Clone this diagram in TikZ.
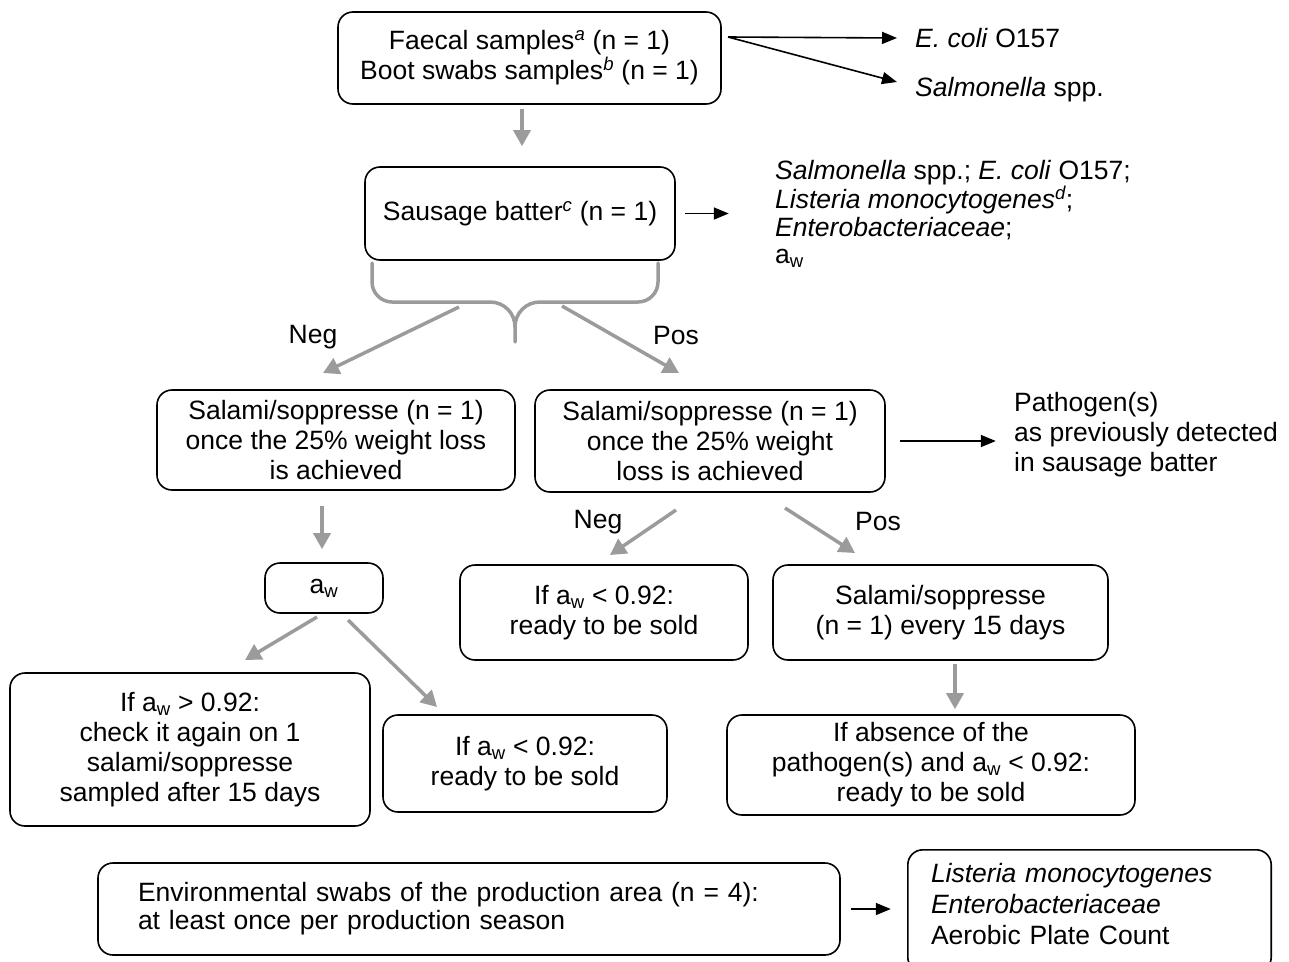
\documentclass[tikz,border=0pt]{standalone}
\usepackage{fontspec}
\setmainfont{Liberation Sans}
\usetikzlibrary{arrows.meta,calc}
\definecolor{ag}{RGB}{155,155,155}
\begin{document}
\begin{tikzpicture}[x=1pt,y=-1pt,
  every node/.style={font=\fontsize{26.5}{30}\selectfont},
  box/.style={draw,rounded corners=15pt,line width=1.6pt,align=center,inner sep=0pt},
  lbl/.style={inner sep=0pt},
  garrow/.style={draw=ag,line width=3.5pt,-{Triangle[width=17pt,length=16pt]}},
  barrow/.style={draw=black,line width=1.6pt,-{Triangle[width=12pt,length=15pt]}},
  bracestyle/.style={draw=ag,line width=3.5pt,line cap=round}]
\useasboundingbox (0,0) rectangle (1289,961);

% top box
\node[box,minimum width=383pt,minimum height=92pt] (fae) at (529.5,58)
  {Faecal samples\textsuperscript{\itshape a} (n = 1)\\Boot swabs samples\textsuperscript{\itshape b} (n = 1)};
\node[lbl,anchor=west] (ecoli) at (915,38) {\textit{E. coli} O157};
\node[lbl,anchor=west] (salm) at (915,90) {\textit{Salmonella} spp.};
\coordinate (fs) at (728,37);
\draw[barrow] (fs) -- ([xshift=-18pt]ecoli.west);
\draw[barrow] (fs) -- ($(salm.west)+(-18,-8)$);

% sausage batter
\node[box,minimum width=310pt,minimum height=93pt] (bat) at (520,213.5)
  {Sausage batter\textsuperscript{\itshape c} (n = 1)};
\draw[garrow,shorten <=4pt,shorten >=20pt] ([xshift=-7.5pt]fae.south) -- ([xshift=2pt]bat.north);
\draw[barrow] ([xshift=9pt]bat.east) -- ([xshift=53pt]bat.east);
\node[lbl,anchor=west,align=left,font=\fontsize{26.5}{27.5}\selectfont] (bres) at (775,214)
  {\textit{Salmonella} spp.; \textit{E. coli} O157;\\\textit{Listeria monocytogenes}\textsuperscript{\itshape d};\\\textit{Enterobacteriaceae};\\a\textsubscript{w}};

% brace
\draw[bracestyle] (372,263) -- (372,282) .. controls (372,293) and (381,302) .. (392,302) -- (490,302)
  .. controls (504,302) and (515,313) .. (515,327) -- (515,342);
\draw[bracestyle] (658,263) -- (658,282) .. controls (658,293) and (649,302) .. (638,302) -- (540,302)
  .. controls (526,302) and (515,313) .. (515,327);
\coordinate (bl) at (459,307);
\coordinate (br) at (562,306);
\coordinate (negtip) at (323,373);
\coordinate (postip) at (679,373);
\draw[garrow] (bl) -- (negtip);
\draw[garrow] (br) -- (postip);
\node[lbl] (neg1) at (313,337) {Neg};
\node[lbl] (pos1) at (676,336) {Pos};

% salami boxes
\node[box,minimum width=358pt,minimum height=100pt] (s3l) at (336,440)
  {Salami/soppresse (n = 1)\\once the 25\% weight loss\\is achieved};
\node[box,minimum width=350pt,minimum height=102pt] (s3r) at (710,441)
  {Salami/soppresse (n = 1)\\once the 25\% weight\\loss is achieved};
\draw[barrow] ([xshift=14pt]s3r.east) -- ([xshift=110pt]s3r.east);
\node[lbl,anchor=west,align=left] (path) at (1014,435)
  {Pathogen(s)\\as previously detected\\in sausage batter};

% aw
\node[box,minimum width=118pt,minimum height=50pt] (aw) at (324,588) {a\textsubscript{w}};
\draw[garrow,shorten <=15pt,shorten >=13pt] ([xshift=-14pt]s3l.south) -- ([xshift=-2pt]aw.north);
\coordinate (aw1) at (317,617);
\coordinate (aw1t) at (245,660);
\coordinate (aw2) at (348,620);
\coordinate (aw2t) at (437,707);
\draw[garrow] (aw1) -- (aw1t);
\draw[garrow] (aw2) -- (aw2t);

\node[box,minimum width=360pt,minimum height=153pt] (chk) at (190,749.5)
  {If a\textsubscript{w} > 0.92:\\check it again on 1\\salami/soppresse\\sampled after 15 days};
\node[box,minimum width=284pt,minimum height=97pt] (rdy1) at (525,763.5)
  {If a\textsubscript{w} < 0.92:\\ready to be sold};

% right branch
\coordinate (rn) at (676,510);
\coordinate (rnt) at (610,555);
\coordinate (rp) at (785,508);
\coordinate (rpt) at (855,553);
\draw[garrow] (rn) -- (rnt);
\draw[garrow] (rp) -- (rpt);
\node[lbl] (neg2) at (598,522) {Neg};
\node[lbl] (pos2) at (878,522) {Pos};

\node[box,minimum width=288pt,minimum height=95pt] (rdy2) at (604,612.5)
  {If a\textsubscript{w} < 0.92:\\ready to be sold};
\node[box,minimum width=335pt,minimum height=95pt] (ev15) at (940.5,612.5)
  {Salami/soppresse\\(n = 1) every 15 days};
\node[box,minimum width=408pt,minimum height=100pt] (abs) at (931,765)
  {If absence of the\\pathogen(s) and a\textsubscript{w} < 0.92:\\ready to be sold};
\draw[garrow,shorten <=3pt,shorten >=5pt] ([xshift=14.5pt]ev15.south) -- ([xshift=24pt]abs.north);

% bottom
\node[box,align=left,text width=662pt,inner xsep=40pt,minimum height=92pt,font=\fontsize{26.5}{28}\selectfont] (env) at (469,909)
  {Environmental swabs of the production area (n = 4):\\at least once per production season};
\node[lbl,align=left,text width=317pt,inner xsep=23pt,minimum height=108pt,font=\fontsize{26.5}{31}\selectfont] (lis) at (1089.5,904)
  {\textit{Listeria monocytogenes}\\\textit{Enterobacteriaceae}\\Aerobic Plate Count};
\draw[rounded corners=15pt,line width=1.6pt] (lis.north west) rectangle ([yshift=-14pt]lis.south east);
\draw[barrow] ([xshift=10pt]env.east) -- ([xshift=50pt]env.east);
\end{tikzpicture}
\end{document}
